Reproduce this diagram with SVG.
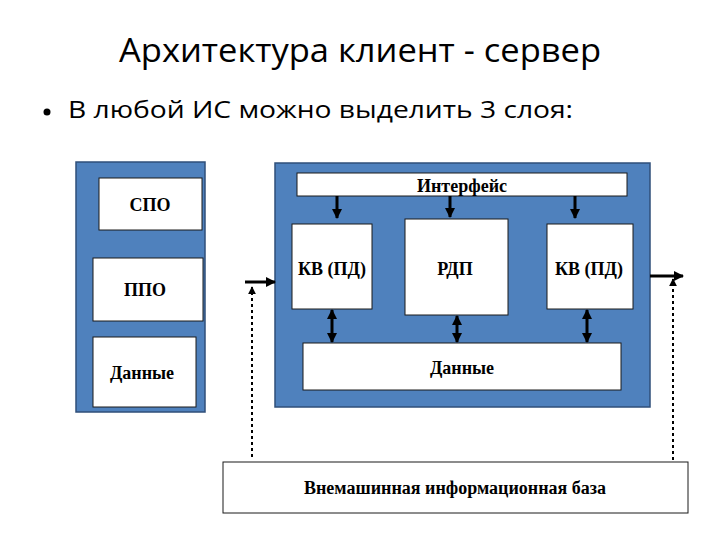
<svg xmlns="http://www.w3.org/2000/svg" width="720" height="540" viewBox="0 0 720 540">
  <style>
    .panel { fill: #4F81BD; stroke: #2F4F7A; stroke-width: 1.5; }
    .box { fill: #FFFFFF; stroke: #1A1A1A; stroke-width: 1; }
    .lbl { font-family: "Liberation Serif", "Times New Roman", serif; font-weight: bold; font-size: 18px; fill: #000; text-anchor: middle; }
    .head { font-family: "Open Sans", "Liberation Sans", sans-serif; fill: #000; }
    .arr { stroke: #000; stroke-width: 3; fill: none; }
    .dot { stroke: #000; stroke-width: 2; stroke-dasharray: 3 3; fill: none; }
  </style>
  <defs>
    <marker id="ah" viewBox="0 0 10 10" refX="9" refY="5" markerWidth="3.4" markerHeight="3.4" orient="auto-start-reverse" markerUnits="strokeWidth">
      <path d="M0,0 L10,5 L0,10 z" fill="#000"/>
    </marker>
    <marker id="ahs" viewBox="0 0 10 10" refX="9" refY="5" markerWidth="4" markerHeight="4" orient="auto" markerUnits="strokeWidth">
      <path d="M0,0 L10,5 L0,10 z" fill="#000"/>
    </marker>
  </defs>

  <rect width="720" height="540" fill="#FFFFFF"/>

  <g id="title">
    <text class="head" x="360" y="62" font-size="33" text-anchor="middle" textLength="482" lengthAdjust="spacingAndGlyphs">Архитектура клиент - сервер</text>
  </g>
  <g id="bullet">
    <circle cx="47" cy="112" r="3.5" fill="#000"/>
    <text class="head" x="68" y="118" font-size="23" textLength="505" lengthAdjust="spacingAndGlyphs">В любой ИС можно выделить 3 слоя:</text>
  </g>

  <g id="left-panel">
    <rect class="panel" x="76" y="162" width="129" height="250"/>
  </g>
  <g id="spo">
    <rect class="box" x="99" y="178" width="103" height="52"/>
    <text class="lbl" x="150" y="211">СПО</text>
  </g>
  <g id="ppo">
    <rect class="box" x="93" y="258" width="110" height="63"/>
    <text class="lbl" x="145" y="296">ППО</text>
  </g>
  <g id="data-left">
    <rect class="box" x="93" y="337" width="103" height="70"/>
    <text class="lbl" x="142" y="379">Данные</text>
  </g>

  <g id="right-panel">
    <rect class="panel" x="275" y="163" width="375" height="244"/>
  </g>
  <g id="interface">
    <rect class="box" x="297" y="173" width="330" height="23"/>
    <text class="lbl" x="462" y="192">Интерфейс</text>
  </g>
  <g id="kv-left">
    <rect class="box" x="292" y="224" width="80" height="85"/>
    <text class="lbl" x="332" y="275">КВ (ПД)</text>
  </g>
  <g id="rdp">
    <rect class="box" x="405" y="219" width="103" height="96"/>
    <text class="lbl" x="455" y="275">РДП</text>
  </g>
  <g id="kv-right">
    <rect class="box" x="547" y="224" width="86" height="85"/>
    <text class="lbl" x="589" y="275">КВ (ПД)</text>
  </g>
  <g id="data-right">
    <rect class="box" x="303" y="343" width="318" height="47"/>
    <text class="lbl" x="462" y="374">Данные</text>
  </g>

  <g id="external-db">
    <rect class="box" x="223" y="462" width="465" height="51"/>
    <text class="lbl" x="455" y="494" font-size="17">Внемашинная информационная база</text>
  </g>

  <g id="connectors">
    <line class="arr" x1="337" y1="196" x2="337" y2="218" marker-end="url(#ah)"/>
    <line class="arr" x1="450" y1="196" x2="450" y2="217" marker-end="url(#ah)"/>
    <line class="arr" x1="575" y1="196" x2="575" y2="218" marker-end="url(#ah)"/>

    <line class="arr" x1="332" y1="310" x2="332" y2="342" marker-start="url(#ah)" marker-end="url(#ah)"/>
    <line class="arr" x1="457" y1="316" x2="457" y2="342" marker-start="url(#ah)" marker-end="url(#ah)"/>
    <line class="arr" x1="587" y1="310" x2="587" y2="342" marker-start="url(#ah)" marker-end="url(#ah)"/>

    <line class="arr" x1="245" y1="282" x2="275" y2="282" marker-end="url(#ah)"/>
    <line class="arr" x1="650" y1="276" x2="683" y2="276" marker-end="url(#ah)"/>

    <line class="dot" x1="252" y1="457" x2="252" y2="287" marker-end="url(#ahs)"/>
    <line class="dot" x1="673" y1="460" x2="673" y2="279" marker-end="url(#ahs)"/>
  </g>
</svg>
